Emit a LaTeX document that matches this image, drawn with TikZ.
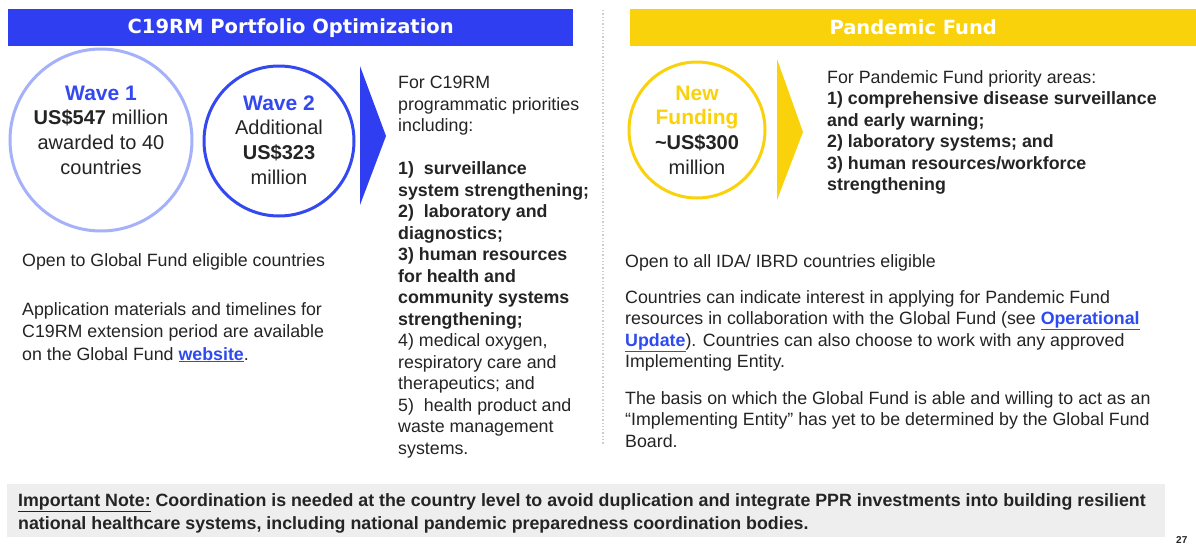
\documentclass[tikz,border=0pt]{standalone}
\usepackage{fontspec}
\setmainfont{Liberation Sans}
\newfontfamily\hdfont{DejaVu Sans}
\newcommand\myfs[2]{\fontsize{#1}{#2}\selectfont}
\definecolor{cblue}{RGB}{46,62,240}
\definecolor{wavelight}{RGB}{165,178,250}
\definecolor{wavedark}{RGB}{52,72,240}
\definecolor{cyellow}{RGB}{250,210,12}
\definecolor{txtcol}{RGB}{36,36,36}
\definecolor{linkcol}{RGB}{45,75,240}
\definecolor{notegray}{RGB}{238,238,238}
\definecolor{sepgray}{RGB}{205,205,205}
\begin{document}
\begin{tikzpicture}[x=1pt,y=-1pt,
  hdr/.style={anchor=north west, inner sep=0, text=white, font=\hdfont\bfseries\myfs{19.5}{22}},
  txt/.style={anchor=north west, inner sep=0, align=left, text=txtcol, font=\myfs{17.8}{21.5}},
  ctxt/.style={inner sep=0, align=center, text=txtcol, font=\myfs{20}{24.7}},
  ring/.style={circle, inner sep=0, line width=3pt}
]
\useasboundingbox (0,0) rectangle (1196,544);
\fill[white] (0,0) rectangle (1196,544);

% headers
\node[hdr, fill=cblue, minimum width=565, minimum height=37] (hb) at (8,9) {C19RM Portfolio Optimization};
\node[hdr, fill=cyellow, minimum width=566, minimum height=37] (hy) at (630,9) {Pandemic Fund};

% separator
\draw[sepgray, dotted, line width=1.3pt] (603,10) -- (603,445);

% circles
\node[ring, draw=wavelight, minimum size=182] (w1) at (101,140) {};
\node[ctxt] (w1t) at (101,130) {{\color{wavedark}\bfseries\myfs{21}{24.7}Wave 1}\\\textbf{US\$547} million\\awarded to 40\\countries};
\node[ring, draw=wavedark, minimum size=150] (w2) at (279,141) {};
\node[ctxt] (w2t) at (279,140) {{\color{wavedark}\bfseries\myfs{21}{24.7}Wave 2}\\Additional\\\textbf{US\$323}\\million};
\node[ring, draw=cyellow, minimum size=136] (nf) at (697,130) {};
\node[ctxt] (nft) at (697,130) {{\color{cyellow}\bfseries\myfs{21}{24.7}New}\\{\color{cyellow}\bfseries\myfs{21}{24.7}Funding}\\\textbf{\textasciitilde US\$300}\\million};

% triangles
\fill[cblue] (360,66) -- (386,136) -- (360,205) -- cycle;
\fill[cyellow] (777,59) -- (803,132) -- (777,200) -- cycle;

% middle column
\node[txt] (mid) at (398,76) {For C19RM\\programmatic priorities\\including:\\[21.5pt]
\textbf{1)\ \ surveillance}\\\textbf{system strengthening;}\\\textbf{2)\ \ laboratory and}\\\textbf{diagnostics;}\\
\textbf{3) human resources}\\\textbf{for health and}\\\textbf{community systems}\\\textbf{strengthening;}\\
4) medical oxygen,\\respiratory care and\\therapeutics; and\\5)\ \ health product and\\waste management\\systems.};

% right top column
\node[txt] (rt) at (827,70) {For Pandemic Fund priority areas:\\\textbf{1) comprehensive disease surveillance}\\\textbf{and early warning;}\\\textbf{2) laboratory systems; and}\\\textbf{3) human resources/workforce}\\\textbf{strengthening}};

% left lower
\node[txt] (l1) at (22,253) {Open to Global Fund eligible countries};
\node[txt, font=\myfs{17.8}{22.5}] (l2) at (22,302) {Application materials and timelines for\\C19RM extension period are available\\on the Global Fund {\color{linkcol}\bfseries\underline{website}}.};

% right lower
\node[txt] (r1) at (625,254) {Open to all IDA/ IBRD countries eligible};
\node[txt] (r2) at (625,290) {Countries can indicate interest in applying for Pandemic Fund\\resources in collaboration with the Global Fund (see {\color{linkcol}\bfseries\underline{Operational}}\\{\color{linkcol}\bfseries\underline{Update}}). Countries can also choose to work with any approved\\Implementing Entity.};
\node[txt] (r3) at (625,391) {The basis on which the Global Fund is able and willing to act as an\\``Implementing Entity'' has yet to be determined by the Global Fund\\Board.};

% note
\node[fill=notegray, anchor=north west, inner sep=0, minimum width=1158, minimum height=53] (nb) at (7,484) {};
\node[txt, font=\bfseries\myfs{17.8}{23}] (nt) at (18,493) {\underline{Important Note:} Coordination is needed at the country level to avoid duplication and integrate PPR investments into building resilient\\national healthcare systems, including national pandemic preparedness coordination bodies.};
\node[anchor=north west, inner sep=0, text=txtcol, font=\bfseries\myfs{10}{12}] (pg) at (1176,536) {27};
\end{tikzpicture}
\end{document}
